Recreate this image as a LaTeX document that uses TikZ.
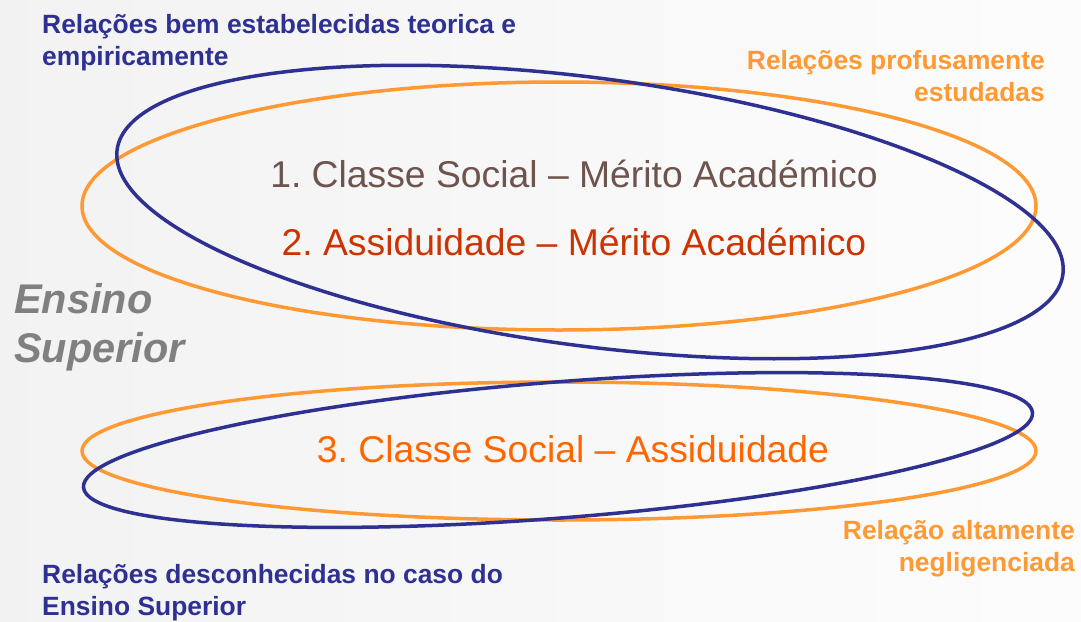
\documentclass[tikz,border=0pt]{standalone}
\usepackage{fontspec}
\setmainfont{Liberation Sans}
\frenchspacing
\definecolor{ringblue}{RGB}{46,49,146}
\definecolor{ringorange}{RGB}{255,153,51}
\definecolor{pairone}{RGB}{110,84,78}
\definecolor{pairtwo}{RGB}{204,51,0}
\definecolor{pairthree}{RGB}{255,102,0}
\tikzset{
  ring/.style={line width=3.5pt},
  pairtext/.style={font=\fontsize{37.3}{44}\selectfont, inner sep=0pt, anchor=base},
  notetext/.style={font=\fontsize{26.4}{31.5}\selectfont\bfseries, inner sep=0pt},
}
\begin{document}
\begin{tikzpicture}[x=1pt,y=-1pt]
    \useasboundingbox (0,0) rectangle (1081,621);
    \shade[left color=black!5, right color=black!1] (0,0) rectangle (1081,621); % background
    % upper pair of rings
    \draw[ring, ringorange] (559,206) ellipse [x radius=477, y radius=124];
    \draw[ring, ringblue, rotate around={-7.5:(590,212)}] (590,212) ellipse [x radius=477, y radius=134];
    % lower pair of rings
    \draw[ring, ringorange] (559,451) ellipse [x radius=477, y radius=69];
    \draw[ring, ringblue, rotate around={4.5:(558,450)}] (558,450) ellipse [x radius=476, y radius=68];
    % relations
    \node[pairtext, pairone] (classmerit) at (574,187) {1. Classe Social -- Mérito Académico};
    \node[pairtext, pairtwo] (attendmerit) at (574,255) {2. Assiduidade -- Mérito Académico};
    \node[pairtext, pairthree] (classattend) at (573,462) {3. Classe Social -- Assiduidade};
    \node[font=\fontsize{41.5}{49}\selectfont\bfseries\itshape, text=black!50, inner sep=0pt,
          align=left, anchor=base west] (higher) at (14,362) {Ensino\\Superior};
    % notes (base anchor = last line)
    \node[notetext, ringblue, align=left, anchor=base west] (wellknown) at (42,65)
        {Relações bem estabelecidas teorica e\\empiricamente};
    \node[notetext, ringorange, align=right, anchor=base east] (studied) at (1045,101)
        {Relações profusamente\\estudadas};
    \node[notetext, ringorange, align=right, anchor=base east] (neglected) at (1075,571)
        {Relação altamente\\negligenciada};
    \node[notetext, ringblue, align=left, anchor=base west] (unknown) at (42,615)
        {Relações desconhecidas no caso do\\Ensino Superior};
\end{tikzpicture}
\end{document}
